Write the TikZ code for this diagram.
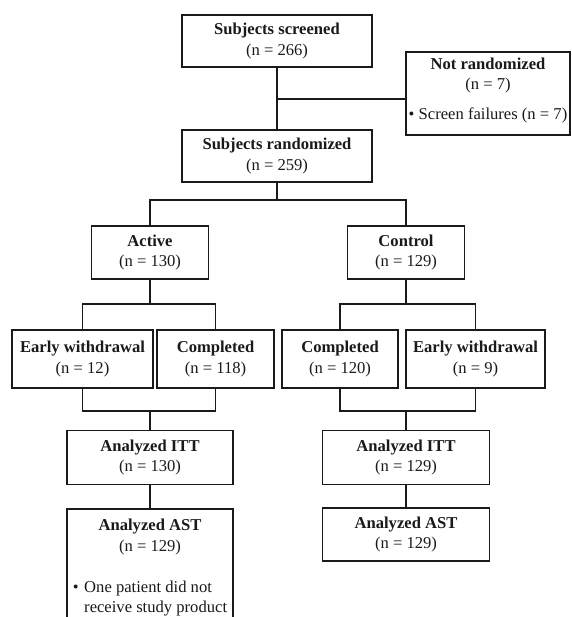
\documentclass[tikz,border=0pt]{standalone}
\usepackage{fontspec}
\setmainfont{Liberation Serif}
\definecolor{ink}{HTML}{1A1A1A}
\tikzset{
  box/.style={draw=ink, text=ink, line width=1.8pt, align=center, inner sep=0pt, fill=white, font=\fontsize{16.6}{20.5}\selectfont},
  link/.style={draw=ink, line width=1.8pt}
}

\begin{document}
\begin{tikzpicture}[x=1pt, y=-1pt]
				\path[use as bounding box, fill=white] (0,0) rectangle (571,617);
				\clip (0,0) rectangle (571,617);
				\node[box, minimum width=190pt, minimum height=52pt] (screened) at (277,41) {\textbf{Subjects screened}\\(n = 266)};
				\node[box, minimum width=164pt, minimum height=83pt] (notrand) at (488,93.5) {\textbf{Not randomized}\\(n = 7)\\[9.5pt]• Screen failures (n = 7)\rule[-9.6pt]{0pt}{1pt}};
				\node[box, minimum width=190pt, minimum height=52pt] (randomized) at (277,156) {\textbf{Subjects randomized}\\(n = 259)};
				\node[box, minimum width=117pt, minimum height=53pt] (active) at (150,252.5) {\textbf{Active}\\(n = 130)};
				\node[box, minimum width=117pt, minimum height=53pt] (control) at (406,252.5) {\textbf{Control}\\(n = 129)};
				\node[box, minimum width=141pt, minimum height=58pt] (earlyA) at (82.5,359) {\textbf{Early withdrawal}\\(n = 12)};
				\node[box, minimum width=117pt, minimum height=58pt] (doneA) at (215.5,359) {\textbf{Completed}\\(n = 118)};
				\node[box, minimum width=116pt, minimum height=58pt] (doneC) at (340,359) {\textbf{Completed}\\(n = 120)};
				\node[box, minimum width=139pt, minimum height=58pt] (earlyC) at (475.5,359) {\textbf{Early withdrawal}\\(n = 9)};
				\node[box, minimum width=166pt, minimum height=54pt] (ittA) at (150,457.5) {\textbf{Analyzed ITT}\\(n = 130)};
				\node[box, minimum width=167pt, minimum height=54pt] (ittC) at (406,457.5) {\textbf{Analyzed ITT}\\(n = 129)};
				\node[box, minimum width=166pt, inner ysep=10.5pt, anchor=north] (astA) at (150,508) {\textbf{Analyzed AST}\\(n = 129)\\[20.5pt]\begin{tabular}[t]{@{}l@{\,\,}l@{}}• & One patient did not\\ & receive study product\rule[-60pt]{0pt}{1pt}\end{tabular}};
				\node[box, minimum width=167pt, minimum height=53pt] (astC) at (406,534.5) {\textbf{Analyzed AST}\\(n = 129)};
				\coordinate (split0) at (277,99);
				\coordinate (split1) at (277,200);
				\coordinate (splitA) at (150,304);
				\coordinate (mergeA) at (150,411);
				\coordinate (splitC) at (406,304);
				\coordinate (mergeC) at (406,411);
				\draw[link] (screened) -- (randomized);
				\draw[link] (split0) -- (split0 -| notrand.west);
				\draw[link] (randomized) -- (split1);
				\draw[link] (active) |- (split1) -| (control);
				\draw[link] (active) -- (splitA);
				\draw[link] (earlyA) |- (splitA) -| (doneA);
				\draw[link] (earlyA) |- (mergeA) -| (doneA);
				\draw[link] (mergeA) -- (ittA);
				\draw[link] (control) -- (splitC);
				\draw[link] (doneC) |- (splitC) -| (earlyC);
				\draw[link] (doneC) |- (mergeC) -| (earlyC);
				\draw[link] (mergeC) -- (ittC);
				\draw[link] (ittA) -- (astA);
				\draw[link] (ittC) -- (astC);
			\end{tikzpicture}
\end{document}
